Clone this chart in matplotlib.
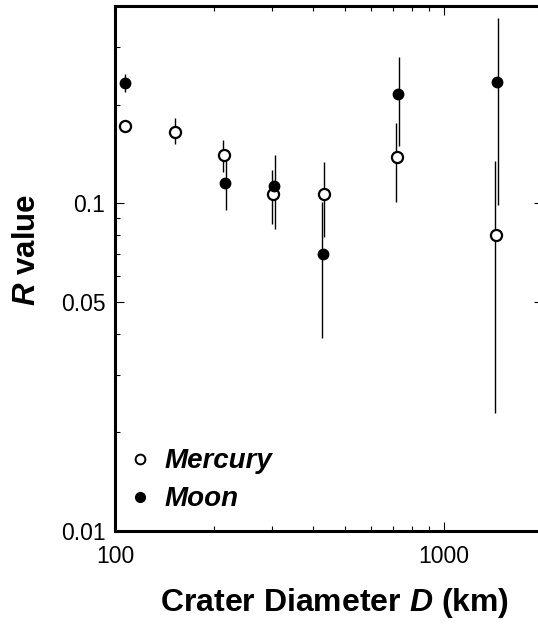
import numpy as np
import matplotlib
matplotlib.use('Agg')
import matplotlib.pyplot as plt
from matplotlib.lines import Line2D
from matplotlib.ticker import FixedLocator, NullFormatter, FixedFormatter

plt.rcParams['font.family'] = ['Liberation Sans', 'DejaVu Sans']
plt.rcParams['mathtext.fontset'] = 'custom'
plt.rcParams['mathtext.it'] = 'Liberation Sans:bold:italic'
plt.rcParams['mathtext.rm'] = 'Liberation Sans:bold'

# Mercury (open circles)
mercury_d = [107.0, 152.2, 215.0, 301.5, 432.3, 721.0, 1443.0]
mercury_r = [0.172, 0.1654, 0.1408, 0.1065, 0.1065, 0.1384, 0.0799]
mercury_lo = [0.166, 0.1521, 0.1246, 0.0867, 0.0789, 0.1009, 0.0229]
mercury_hi = [0.178, 0.1826, 0.1556, 0.1260, 0.1336, 0.1757, 0.1343]
mercury_bar_d = [107.0, 152.2, 213.0, 299.5, 432.0, 715.0, 1426.0]

# Moon (filled circles)
moon_d = [107.3, 215.3, 304.6, 427.9, 724.7, 1450.0]
moon_r = [0.2327, 0.1153, 0.1129, 0.0699, 0.2149, 0.2344]
moon_lo = [0.2185, 0.0952, 0.0837, 0.0387, 0.1492, 0.0986]
moon_hi = [0.2474, 0.138, 0.1401, 0.1009, 0.2793, 0.3683]
moon_bar_d = [107.3, 217.2, 306.9, 427.3, 731.0, 1460.0]

fig = plt.figure(figsize=(5.38, 6.28), dpi=100)
ax = fig.add_axes([115/538, 1-531/628, (543-115)/538, (531-6)/628])
ax.set_xscale('log')
ax.set_yscale('log')
ax.set_xlim(100, 2000)
ax.set_ylim(0.01, 0.4)

ax.vlines(mercury_bar_d, mercury_lo, mercury_hi, color='black', lw=1.0, zorder=2)
ax.vlines(moon_bar_d, moon_lo, moon_hi, color='black', lw=1.0, zorder=2)
ax.plot(mercury_d, mercury_r, 'o', ls='none', mfc='white', mec='black', ms=8, mew=1.6, zorder=4)
ax.plot(moon_d, moon_r, 'o', ls='none', mfc='black', mec='black', ms=7.5, mew=1, zorder=4)

for s in ax.spines.values():
    s.set_linewidth(2.2)

ax.xaxis.set_major_locator(FixedLocator([100, 1000]))
ax.xaxis.set_major_formatter(FixedFormatter(['100', '1000']))
ax.xaxis.set_minor_locator(FixedLocator([200, 300, 400, 500, 600, 700, 800, 900]))
ax.xaxis.set_minor_formatter(NullFormatter())
ax.yaxis.set_major_locator(FixedLocator([0.01, 0.05, 0.1]))
ax.yaxis.set_major_formatter(FixedFormatter(['0.01', '0.05', '0.1']))
ax.yaxis.set_minor_locator(FixedLocator([0.02, 0.03, 0.04, 0.06, 0.07, 0.08, 0.09, 0.2, 0.3]))
ax.yaxis.set_minor_formatter(NullFormatter())

ax.tick_params(which='both', direction='in', top=True, right=True, width=0.8, labelsize=16.5)
ax.tick_params(which='major', length=6.5)
ax.tick_params(which='minor', length=3.5)
ax.tick_params(axis='x', which='major', pad=10)
ax.tick_params(axis='y', which='major', pad=7)

ax.set_xlabel('Crater Diameter $D$ (km)', fontsize=23, fontweight='bold')
ax.set_ylabel('$R$ value', fontsize=22.5, fontweight='bold')
ax.xaxis.set_label_coords(0.514, -0.105)
ax.yaxis.set_label_coords(-0.17, 0.535)

handles = [Line2D([], [], marker='o', ls='none', mfc='white', mec='black', ms=7, mew=1.4),
           Line2D([], [], marker='o', ls='none', mfc='black', mec='black', ms=7)]
ax.legend(handles, ['Mercury', 'Moon'], loc='lower left', bbox_to_anchor=(-0.025, -0.012),
          frameon=False, handlelength=0.8, handletextpad=0.45, labelspacing=0.43,
          prop={'family': 'Liberation Sans', 'weight': 'bold', 'style': 'italic', 'size': 20})

fig.savefig('out.png', dpi=100)
